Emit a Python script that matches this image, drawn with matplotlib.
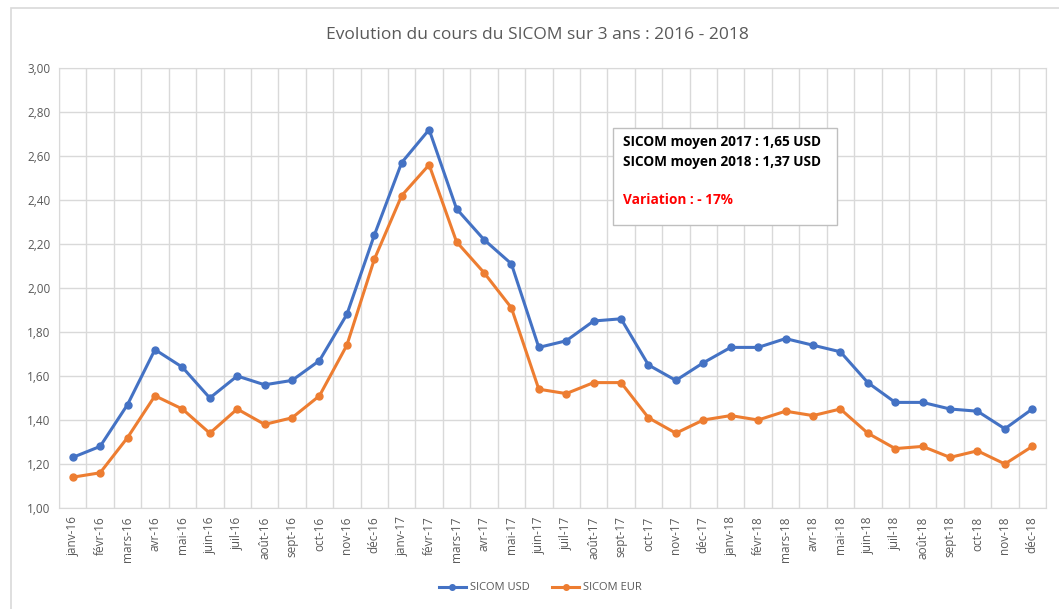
import matplotlib.pyplot as plt
from matplotlib.patches import Rectangle

plt.rcParams['font.family'] = ['Open Sans', 'DejaVu Sans']

mois = ['janv', 'févr', 'mars', 'avr', 'mai', 'juin', 'juil', 'août',
        'sept', 'oct', 'nov', 'déc']
labels = [f'{m}-{a}' for a in ('16', '17', '18') for m in mois]

sicom_usd = [1.23, 1.28, 1.47, 1.72, 1.64, 1.50, 1.60, 1.56, 1.58, 1.67, 1.88, 2.24,
             2.57, 2.72, 2.36, 2.22, 2.11, 1.73, 1.76, 1.85, 1.86, 1.65, 1.58, 1.66,
             1.73, 1.73, 1.77, 1.74, 1.71, 1.57, 1.48, 1.48, 1.45, 1.44, 1.36, 1.45]
sicom_eur = [1.14, 1.16, 1.32, 1.51, 1.45, 1.34, 1.45, 1.38, 1.41, 1.51, 1.74, 2.13,
             2.42, 2.56, 2.21, 2.07, 1.91, 1.54, 1.52, 1.57, 1.57, 1.41, 1.34, 1.40,
             1.42, 1.40, 1.44, 1.42, 1.45, 1.34, 1.27, 1.28, 1.23, 1.26, 1.20, 1.28]

blue = '#4472C4'
orange = '#ED7D31'
grid_c = '#D9D9D9'
text_c = '#595959'

W, H = 1059, 609
fig = plt.figure(figsize=(W / 100, H / 100), dpi=100)
ax = fig.add_axes([59 / W, 1 - 508 / H, (1046 - 59) / W, (508 - 68) / H])

x = list(range(len(labels)))
ax.plot(x, sicom_usd, color=blue, lw=2.2, marker='o', ms=5, label='SICOM USD')
ax.plot(x, sicom_eur, color=orange, lw=2.2, marker='o', ms=5, label='SICOM EUR')

ax.set_xlim(-0.5, len(labels) - 0.5)
ax.set_ylim(1.0, 3.0)
yt = [1.0 + 0.2 * i for i in range(11)]
ax.set_yticks(yt)
ax.set_yticklabels([f'{v:.2f}'.replace('.', ',') for v in yt], fontsize=8.5, color=text_c)
ax.set_xticks(x)
ax.set_xticklabels(labels, rotation=90, fontsize=8.5, color=text_c)
ax.set_xticks([i + 0.5 for i in range(-1, len(labels))], minor=True)
ax.grid(True, which='major', axis='y', color=grid_c, lw=1)
ax.grid(True, which='minor', axis='x', color=grid_c, lw=1)
ax.tick_params(which='both', length=0, pad=6)
for s in ax.spines.values():
    s.set_color(grid_c)
ax.set_axisbelow(True)

fig.text(537 / W, 1 - 35 / H, 'Evolution du cours du SICOM sur 3 ans : 2016 - 2018',
         ha='center', va='center', fontsize=12.5, color=text_c)

# encadré des moyennes
fig.patches.append(Rectangle((613 / W, 1 - 225 / H), (837 - 613) / W, (225 - 128) / H,
                             transform=fig.transFigure, facecolor='white',
                             edgecolor='#BFBFBF', lw=1, zorder=5))
fig.text(623 / W, 1 - 142 / H, 'SICOM moyen 2017 : 1,65 USD', fontsize=9.8,
         fontweight='bold', color='black', va='center', zorder=6)
fig.text(623 / W, 1 - 162 / H, 'SICOM moyen 2018 : 1,37 USD', fontsize=9.8,
         fontweight='bold', color='black', va='center', zorder=6)
fig.text(623 / W, 1 - 200 / H, 'Variation : - 17%', fontsize=9.8,
         fontweight='bold', color='red', va='center', zorder=6)

# cadre du graphique
fig.patches.append(Rectangle((11 / W, -0.05), 1.1, 1 - 8 / H + 0.05,
                             transform=fig.transFigure, facecolor='none',
                             edgecolor=grid_c, lw=1.2))

fig.legend(loc='center', bbox_to_anchor=(540 / W, 1 - 588 / H), ncol=2, frameon=False,
           fontsize=8, labelcolor=text_c, handlelength=2.5, columnspacing=2,
           handletextpad=0.3, markerscale=0.8)

fig.savefig('out.png', dpi=100, facecolor='white')
